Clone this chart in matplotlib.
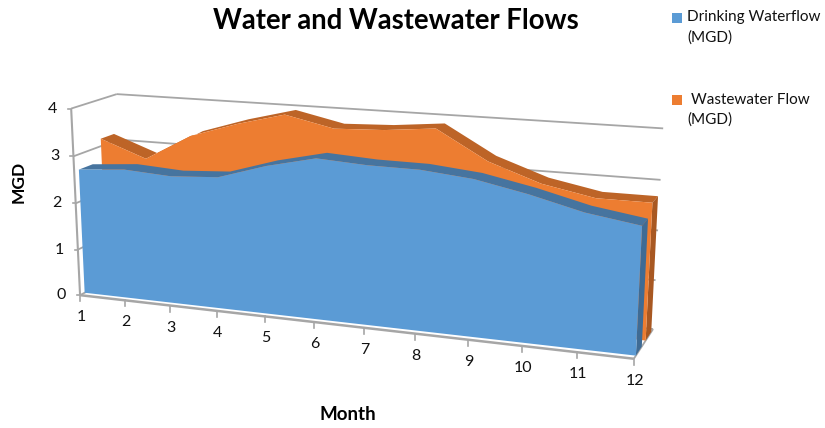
import numpy as np
import matplotlib
matplotlib.use('Agg')
import matplotlib.pyplot as plt

plt.rcParams['font.family'] = ['Lato', 'DejaVu Sans']

months = list(range(1, 13))
drinking = [2.68, 2.76, 2.70, 2.76, 3.07, 3.30, 3.24, 3.23, 3.13, 2.92, 2.66, 2.50]
wastewater = [3.16, 2.80, 3.36, 3.68, 3.94, 3.72, 3.76, 3.86, 3.28, 2.92, 2.72, 2.72]
y_ticks = [0, 1, 2, 3, 4]

GRID = '#a6a6a6'


# box corners (month, MGD, depth) -> where they sit on the canvas
corners = [((1, 0, 0), (80, 295)), ((12, 0, 0), (634, 359)),
           ((1, 4, 0), (71, 112)), ((12, 4, 0), (644, 143)),
           ((1, 4, 1), (117, 91)), ((12, 4, 1), (663, 132)),
           ((12, 0, 1), (653, 329))]


def fit_camera(pairs):
    A, b = [], []
    for (m, v, d), (px, py) in pairs:
        A.append([m, v, d, 1, 0, 0, 0, 0, -px * m, -px * v, -px * d])
        A.append([0, 0, 0, 0, m, v, d, 1, -py * m, -py * v, -py * d])
        b += [px, py]
    p = np.linalg.lstsq(np.array(A, float), np.array(b, float), rcond=None)[0]
    return np.append(p, 1).reshape(3, 4)


CAM = fit_camera(corners)


def project(m, v, d):
    m, v, d = np.broadcast_arrays(np.asarray(m, float), np.asarray(v, float), np.asarray(d, float))
    q = CAM @ np.array([m, v, d, np.ones_like(m)])
    return q[0] / q[2], q[1] / q[2]


def line(ax, a, b, lw=1.3):
    x, y = project(*zip(a, b))
    ax.plot(x, y, color=GRID, lw=lw, solid_capstyle='butt', zorder=1)


def area(ax, values, d0, d1, face, top, side, z):
    m = np.array(months, float)
    v = np.array(values, float)
    # top band
    xf, yf = project(m, v, d0)
    xb, yb = project(m, v, d1)
    ax.fill(np.r_[xf, xb[::-1]], np.r_[yf, yb[::-1]], color=top, lw=0, zorder=z)
    # right end
    x, y = project([12, 12, 12, 12], [0, v[-1], v[-1], 0], [d0, d0, d1, d1])
    ax.fill(x, y, color=side, lw=0, zorder=z)
    # front
    bx, by = project(m, 0, d0)
    ax.fill(np.r_[xf, bx[::-1]], np.r_[yf, by[::-1]], color=face, lw=0, zorder=z + 1)


fig = plt.figure(figsize=(8.25, 4.28), dpi=100)
ax = fig.add_axes([0, 0, 1, 1])
ax.set_xlim(0, 825)
ax.set_ylim(428, 0)
ax.axis('off')

# walls
for v in y_ticks:
    line(ax, (1, v, 1), (12, v, 1))
    line(ax, (1, v, 0), (1, v, 1))
line(ax, (1, 0, 0), (1, 4, 0), 1.5)
line(ax, (1, 0, 0), (12, 0, 0), 1.8)
line(ax, (12, 0, 0), (12, 0, 1), 1.3)

area(ax, wastewater, 0.6, 0.9, '#ed7d31', '#bd6427', '#a85822', 3)
area(ax, drinking, 0.1, 0.4, '#5b9bd5', '#46749f', '#3f6b94', 6)

# ticks and labels
for m in months:
    x, y = project(m, 0, 0)
    ax.plot([x, x], [y, y + 6], color=GRID, lw=1.2, zorder=1)
    ax.text(x + 1, y + 22, str(m), ha='center', va='center', fontsize=11.5, color='#111111')
for v in y_ticks:
    x, y = project(1, v, 0)
    ax.plot([x - 3, x], [y, y], color=GRID, lw=1.2, zorder=1)
    ax.text(x - 19, y, str(v), ha='center', va='center', fontsize=11.5, color='#111111')

ax.text(396, 21, 'Water and Wastewater Flows', ha='center', va='center', fontsize=19.8, fontweight='bold', color='black')
ax.text(19, 182, 'MGD', rotation=90, ha='center', va='center', fontsize=12.5, fontweight='bold', color='black')
ax.text(348, 414, 'Month', ha='center', va='center', fontsize=13.5, fontweight='bold', color='black')

# legend
ax.fill([672, 682, 682, 672], [13, 13, 23, 23], color='#5b9bd5', lw=0)
ax.text(687, 17, 'Drinking Waterflow', ha='left', va='center', fontsize=11, color='#111111')
ax.text(687, 38, '(MGD)', ha='left', va='center', fontsize=11, color='#111111')
ax.fill([672, 682, 682, 672], [95, 95, 105, 105], color='#ed7d31', lw=0)
ax.text(691, 100, 'Wastewater Flow', ha='left', va='center', fontsize=11, color='#111111')
ax.text(687, 120, '(MGD)', ha='left', va='center', fontsize=11, color='#111111')

fig.savefig('out.png', dpi=100)
